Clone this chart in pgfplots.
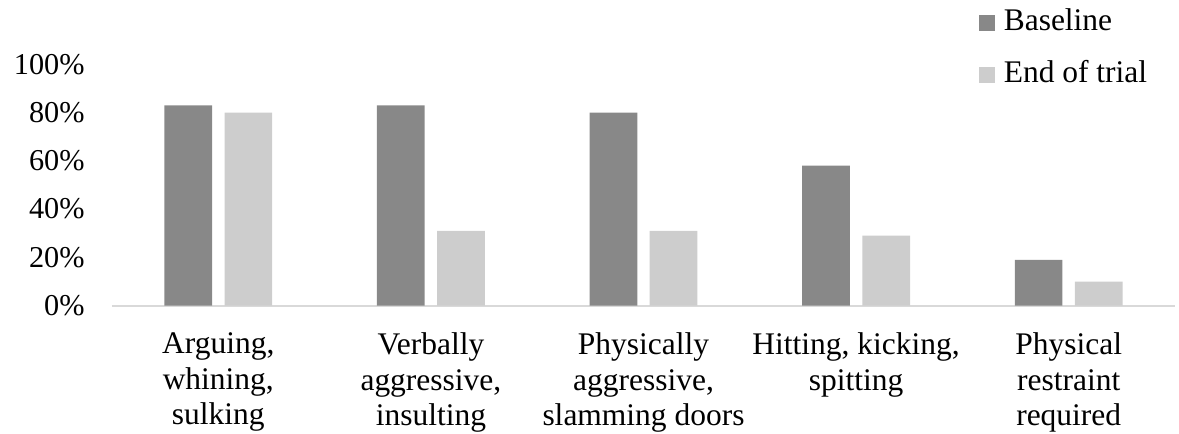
\documentclass[border=0pt]{standalone}
\usepackage{fontspec}
\setmainfont{Liberation Serif}
\usepackage{pgfplots}
\pgfplotsset{compat=1.18}

\definecolor{barDark}{HTML}{888888}
\definecolor{barLight}{HTML}{CDCDCD}
\definecolor{axisGray}{HTML}{D9D9D9}

\pgfplotstableread{
x base endtrial
0 83 80
1 83 31
2 80 31
3 58 29
4 19 10
}\behaviours

\begin{document}
\begin{tikzpicture}
\path[use as bounding box] (-56bp,-64.15bp) rectangle (533.5bp,152.85bp);
\begin{axis}[
  at={(0,0)}, anchor=south west,
  scale only axis,
  width=531.5bp, height=120.75bp,
  xmin=-0.5, xmax=4.5, ymin=0, ymax=100,
  clip=false,
  axis x line*=bottom, axis y line*=left,
  x axis line style={draw=axisGray, line width=1bp, -},
  y axis line style={draw=none},
  tick style={draw=none},
  major tick length=0pt,
  xtick={0,1,2,3,4},
  xticklabels={{Arguing,\\whining,\\sulking},
               {Verbally\\aggressive,\\insulting},
               {Physically\\aggressive,\\slamming doors},
               {Hitting, kicking,\\spitting},
               {Physical\\restraint\\required}},
  ytick={0,20,40,60,80,100},
  yticklabel={\pgfmathprintnumber{\tick}\%},
  /pgf/number format/assume math mode=true,
  ticklabel style={inner sep=0pt},
  xticklabel style={font=\fontsize{15.8}{17.6}\selectfont,
                    anchor=north, align=center, yshift=-13.5bp},
  yticklabel style={font=\fontsize{15.2}{17}\selectfont,
                    anchor=east, xshift=-13.5bp},
  legend cell align=left,
  legend style={
    at={(rel axis cs:0.8156,1.23)}, anchor=north west,
    draw=none, fill=none, inner sep=0pt,
    font=\fontsize{15.8}{17}\selectfont,
    nodes={inner sep=0pt, text height=10.8bp, text depth=3.4bp},
    row sep=11.55bp, column sep=4.2bp,
  },
  legend image code/.code={\fill[#1] (0bp,-4bp) rectangle (8bp,4bp);},
]
\addplot[ybar, bar width=0.2244, bar shift=-0.1415, fill=barDark, draw=none]
  table[x=x, y=base] {\behaviours};
\addlegendentry{Baseline}
\addplot[ybar, bar width=0.2244, bar shift=0.1415, fill=barLight, draw=none]
  table[x=x, y=endtrial] {\behaviours};
\addlegendentry{End of trial}
\end{axis}
\end{tikzpicture}
\end{document}
